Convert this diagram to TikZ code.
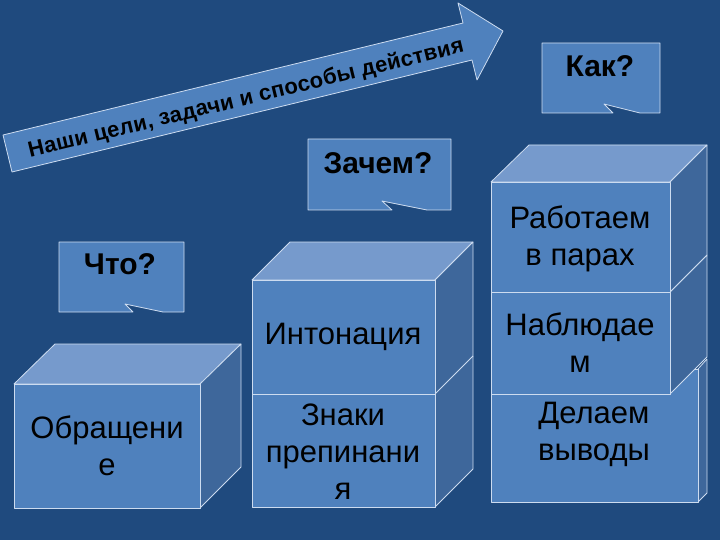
\documentclass[tikz,border=0pt]{standalone}
\usepackage{fontspec}
\setmainfont{Liberation Sans}
\definecolor{bgblue}{RGB}{31,74,126}
\definecolor{faceblue}{RGB}{79,129,189}
\definecolor{topblue}{RGB}{118,154,204}
\definecolor{sideblue}{RGB}{62,103,155}
\definecolor{edgeblue}{RGB}{205,220,240}
\begin{document}
\begin{tikzpicture}[x=1pt,y=-1pt,
	face/.style={fill=faceblue,draw=edgeblue,line width=0.8pt,line join=round},
	topface/.style={fill=topblue,draw=edgeblue,line width=0.8pt,line join=round},
	sideface/.style={fill=sideblue,draw=edgeblue,line width=0.8pt,line join=round},
	boxtext/.style={align=center,text=black,font=\fontsize{31}{37}\selectfont},
	asktext/.style={text=black,font=\bfseries\fontsize{30}{36}\selectfont}]
	\fill [bgblue] (0,0) rectangle (720,540);
	% arrow
	\draw [face] (3,135) -- (463,23) -- (458,3) -- (503,31) -- (477,80) -- (472,60) -- (12,172) -- cycle;
	\node (goal) [rotate=13.7, text=black, font=\bfseries\fontsize{22}{24}\selectfont\addfontfeature{LetterSpace=1.5}] at (246,99) {Наши цели, задачи и способы действия};
	% callouts
	\draw [face] (59,242) -- (184,242) -- (184,312) -- (163,312) -- (125,304) -- (133,312) -- (59,312) -- cycle;
	\node (chto) [asktext] at (120,264) {Что?};
	\draw [face] (308,139) -- (451,139) -- (451,210) -- (427,210) -- (382,201) -- (392,210) -- (308,210) -- cycle;
	\node (zachem) [asktext] at (378,163) {Зачем?};
	\draw [face] (542,43) -- (660,43) -- (660,113) -- (640,113) -- (604,104) -- (613,113) -- (542,113) -- cycle;
	\node (kak) [asktext] at (600,66) {Как?};
	% first cube
	\draw [topface] (14,384) -- (55,344) -- (241,344) -- (200,384) -- cycle;
	\draw [sideface] (200,384) -- (241,344) -- (241,467) -- (200,508) -- cycle;
	\draw [face] (14,384) rectangle (200,508);
	\node (obr) [boxtext] at (107,446) {Обращени\\е};
	% second cube
	\draw [topface] (252,280) -- (290,242) -- (473,242) -- (435,280) -- cycle;
	\draw [sideface] (435,280) -- (473,242) -- (473,469) -- (435,507) -- cycle;
	\draw [edgeblue, line width=0.8pt] (435,394) -- (473,356);
	\draw [face] (252,280) rectangle (435,394);
	\draw [face] (252,394) rectangle (435,507);
	\node (inton) [boxtext] at (343,337) {Интонация};
	\node (znaki) [boxtext] at (343,452) {Знаки\\препинани\\я};
	% third cube
	\draw [sideface] (698,369) -- (707,359) -- (707,493) -- (698,502) -- cycle;
	\draw [face] (491,369) rectangle (698,502);
	\draw [sideface] (670,292) -- (707,255) -- (707,357) -- (670,394) -- cycle;
	\draw [face] (491,292) rectangle (670,394);
	\draw [topface] (491,182) -- (529,145) -- (707,145) -- (670,182) -- cycle;
	\draw [sideface] (670,182) -- (707,145) -- (707,255) -- (670,292) -- cycle;
	\draw [face] (491,182) rectangle (670,292);
	\node (delaem) [boxtext] at (594,434) {Делаем\\выводы};
	\node (nabl) [boxtext] at (580,343) {Наблюдае\\м};
	\node (rabot) [boxtext] at (580,239) {Работаем\\в парах};
\end{tikzpicture}
\end{document}
